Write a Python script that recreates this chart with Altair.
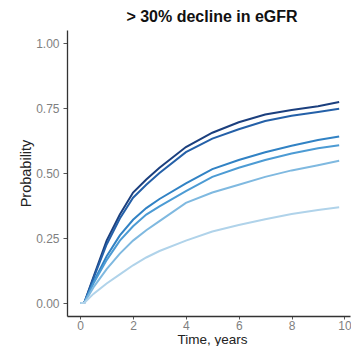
import altair as alt
import pandas as pd

times = [0.0, 0.15, 0.5, 1.0, 1.5, 2.0, 2.5, 3.0, 4.0, 5.0, 6.0, 7.0, 8.0, 9.0, 9.8]
groups = ["G1", "G2", "G3", "G4", "G5", "G6"]
g1 = [0.0, 0.0, 0.10, 0.24, 0.34, 0.425, 0.475, 0.52, 0.60, 0.655, 0.695, 0.725, 0.742, 0.757, 0.773]
g2 = [0.0, 0.0, 0.095, 0.225, 0.325, 0.405, 0.455, 0.50, 0.58, 0.632, 0.668, 0.70, 0.72, 0.735, 0.747]
g3 = [0.0, 0.0, 0.08, 0.18, 0.26, 0.32, 0.365, 0.40, 0.46, 0.515, 0.55, 0.58, 0.605, 0.627, 0.640]
g4 = [0.0, 0.0, 0.075, 0.165, 0.24, 0.295, 0.34, 0.372, 0.43, 0.485, 0.52, 0.55, 0.575, 0.595, 0.607]
g5 = [0.0, 0.0, 0.06, 0.13, 0.19, 0.24, 0.28, 0.315, 0.385, 0.425, 0.455, 0.485, 0.51, 0.53, 0.547]
g6 = [0.0, 0.0, 0.035, 0.075, 0.11, 0.145, 0.175, 0.20, 0.24, 0.275, 0.30, 0.322, 0.342, 0.358, 0.368]
colors = ["#1b3f7e", "#2460a8", "#3182c4", "#4c9bd4", "#7fb9e0", "#b0d3ea"]
x_ticks = [0, 2, 4, 6, 8, 10]
y_ticks = [0.0, 0.25, 0.5, 0.75, 1.0]

rows = []
for name, series in zip(groups, [g1, g2, g3, g4, g5, g6]):
    for t, v in zip(times, series):
        rows.append({"time": t, "prob": v, "group": name})
df = pd.DataFrame(rows)

FONT = "Liberation Sans"

chart = alt.Chart(df).mark_line(strokeWidth=2).encode(
    x=alt.X("time:Q",
            scale=alt.Scale(domain=[-0.5, 10.21], nice=False, zero=False),
            axis=alt.Axis(values=x_ticks, title="Time, years", grid=False,
                          domainColor="#333333", domainWidth=1.3,
                          tickColor="#555555", tickSize=3,
                          labelColor="#7f7f7f", labelFontSize=12, labelFont=FONT,
                          labelPadding=1, titleFont=FONT, titleFontSize=13.5,
                          titleFontWeight="normal", titleColor="#222222",
                          titleX=145, titleY=27.5, titleAnchor="middle",
                          titleBaseline="alphabetic")),
    y=alt.Y("prob:Q",
            scale=alt.Scale(domain=[-0.05, 1.05], nice=False, zero=False),
            axis=alt.Axis(values=y_ticks, format=".2f", title="Probability", grid=False,
                          domainColor="#333333", domainWidth=1.3,
                          tickColor="#555555", tickSize=4,
                          labelColor="#7f7f7f", labelFontSize=12, labelFont=FONT,
                          labelPadding=4, titleFont=FONT, titleFontSize=14.5,
                          titleFontWeight="normal", titleColor="#222222",
                          titlePadding=2)),
    color=alt.Color("group:N", scale=alt.Scale(domain=groups, range=colors), legend=None),
    order=alt.Order("time:Q"),
).properties(
    width=283,
    height=286,
    title=alt.TitleParams("> 30% decline in eGFR", font=FONT, fontSize=16,
                          fontWeight="bold", color="#111111", anchor="middle",
                          frame="group", offset=5.5, dx=3.5),
    autosize=alt.AutoSizeParams(type="none"),
    padding={"left": 59, "top": 22, "right": 1, "bottom": 30},
).configure_view(stroke=None)

chart.save("out.html", embed_options={"renderer": "svg", "actions": False})
